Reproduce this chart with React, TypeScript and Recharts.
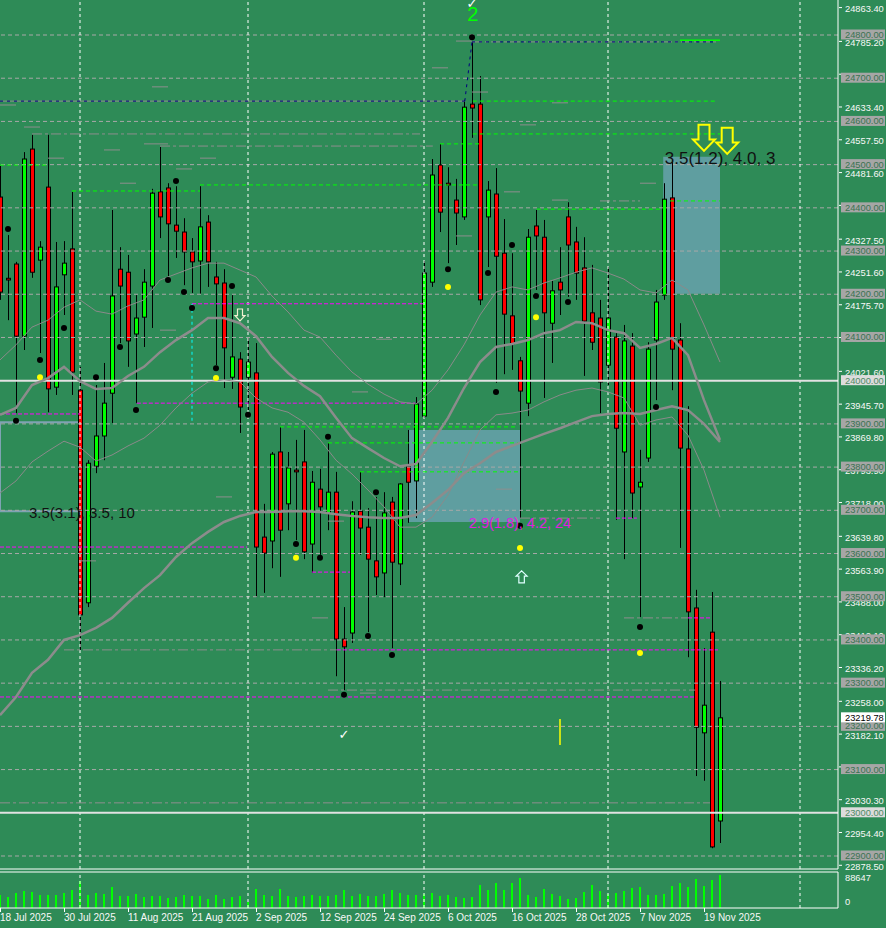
import React from 'react';
import { ComposedChart, Bar, Line, XAxis, YAxis, ReferenceLine, ReferenceArea, ReferenceDot } from 'recharts';

// ---------------- data ----------------
const opens = [24425,24237,24270,24103,24536,24279,24448,23985,24245,24305,23978,23486,23802,23872,23971,24258,24251,24108,24147,24219,24437,24446,24360,24344,24298,24277,24367,24240,24226,24008,24050,24008,24018,23638,23629,23835,23715,23793,23812,23622,23749,23694,23742,23402,23416,23698,23661,23583,23555,23719,23576,23802,23768,23918,24228,24499,24457,24418,24379,24640,24640,24379,24432,24295,24150,24046,23948,24358,24332,24133,24228,24379,24321,24261,24157,24145,24036,24101,23835,24080,23754,23821,24094,24198,24423,24094,23842,23474,23185,23418,22981];
const highs = [24497,24337,24275,24529,24569,24323,24569,24321,24323,24437,24032,23816,23990,24041,24395,24309,24291,24198,24258,24444,24541,24457,24450,24376,24330,24450,24383,24275,24258,24198,24066,24101,24087,23715,23835,23893,23835,23863,23886,23791,23796,23856,23789,23476,23721,23789,23705,23731,23742,23731,23763,23886,23962,24277,24513,24548,24494,24467,24650,24784,24705,24462,24492,24374,24295,24055,24351,24395,24372,24231,24309,24413,24356,24332,24268,24187,24263,24110,24129,24110,23840,24089,24210,24457,24511,24133,23941,23516,23381,23511,23305];
const lows = [24187,24140,23925,24071,24238,24064,23927,23967,24152,23967,23377,23476,23786,23816,23902,24087,24032,23948,24078,24122,24330,24242,24284,24221,24203,24201,24217,24036,23983,23981,23879,23932,23499,23509,23566,23546,23654,23631,23587,23555,23597,23654,23316,23284,23393,23597,23418,23504,23499,23381,23527,23671,23682,23914,24217,24344,24272,24314,24372,24562,24175,24263,23995,24015,24025,23682,23918,24210,23960,24041,24152,24194,24187,24011,24071,23925,23990,23678,23587,23682,23453,23812,23955,24187,23978,23613,23360,23085,23074,22918,22930];
const closes = [24205,24233,24103,24513,24251,24309,23981,24217,24272,24020,23458,23809,23872,23948,24196,24219,24092,24145,24228,24434,24379,24363,24346,24298,24275,24356,24275,24224,24076,24055,23939,24043,23615,23601,23830,23654,23798,23789,23604,23765,23708,23742,23402,23384,23696,23659,23587,23546,23694,23580,23761,23765,23946,24249,24476,24390,24453,24388,24633,24631,24187,24441,24288,24154,24085,23976,24332,24335,24157,24208,24210,24314,24249,24138,24089,23997,24145,23890,24092,23740,23765,24073,24182,24420,24073,23844,23465,23198,23249,22921,23219.78];
const volumes = [34900,29500,40300,45700,43000,34900,34900,34900,40300,48300,72500,34900,40300,37600,56400,32200,32200,37600,29500,32200,32200,26900,29500,34900,32200,32200,24200,34900,24200,29500,32200,16100,51000,34900,32200,51000,32200,29500,32200,34900,32200,32200,34900,48300,32200,37600,32200,32200,37600,48300,40300,34900,34900,37600,40300,32200,34900,29500,26900,29500,61800,48300,67200,48300,67200,80600,34900,29500,51000,37600,32200,24200,26900,43000,61800,45700,37600,40300,45700,53700,56400,34900,34900,37600,59100,67200,56400,77900,59100,75200,88647];

// indicator lines, one value every second bar (bar 0, 2, 4, ...)
const midBand = [23921,23937,23990,24006,24032,23999,23981,23983,24011,24032,24066,24094,24117,24145,24145,24133,24103,24055,24018,23988,23964,23914,23867,23844,23821,23802,23807,23858,23914,23983,24043,24078,24085,24094,24110,24117,24136,24133,24117,24110,24076,24085,24099,24059,23955,23863];
const slowMa = [23226,23268,23324,23354,23400,23411,23428,23451,23486,23520,23550,23592,23624,23650,23673,23687,23696,23696,23698,23698,23696,23691,23687,23684,23682,23682,23689,23717,23747,23786,23809,23835,23849,23863,23877,23890,23904,23918,23923,23925,23923,23932,23941,23932,23900,23858];
const upperBand = [24048,24083,24124,24140,24170,24187,24161,24154,24173,24187,24233,24247,24261,24272,24272,24256,24240,24196,24159,24117,24101,24059,24020,23992,23969,23951,23946,23978,24025,24083,24152,24205,24217,24210,24226,24238,24251,24261,24249,24235,24210,24203,24233,24210,24129,24043];
const lowerBand = [23740,23768,23812,23837,23860,23846,23814,23828,23849,23867,23897,23937,23971,23997,24002,23997,23960,23937,23927,23904,23863,23816,23784,23747,23708,23661,23661,23684,23735,23812,23886,23921,23925,23932,23951,23967,23978,23983,23974,23960,23897,23909,23916,23874,23793,23684];

const dateLabels = ['18 Jul 2025','30 Jul 2025','11 Aug 2025','21 Aug 2025','2 Sep 2025','12 Sep 2025','24 Sep 2025','6 Oct 2025','16 Oct 2025','28 Oct 2025','7 Nov 2025','19 Nov 2025'];
const dateTickBars = [0,8,16,24,32,40,48,56,64,72,80,88];
const monthSeparators = [10,31,53,76,100];

const priceTicks = [24863.4,24785.2,24709.3,24633.4,24557.5,24481.6,24405.7,24327.5,24251.6,24175.7,24099.8,24021.6,23945.7,23869.8,23793.9,23718.0,23639.8,23563.9,23488.0,23412.1,23336.2,23258.0,23182.1,23106.2,23030.3,22954.4,22878.5];
const roundLevels = [24800,24700,24600,24500,24400,24300,24200,24100,23900,23800,23700,23600,23500,23400,23300,23200,23100,22900];
const keyLevels = [24000,23000];
const lastPrice = 23219.78;
const volumeTicks = [0, 88647];

const fractalsBlack = [[1,24351],[2,23907],[5,24048],[8,24122],[12,24008],[15,24078],[17,23932],[21,24233],[22,24462],[23,24205],[24,24168],[27,24029],[29,24219],[31,23921],[37,23622],[40,23590],[41,23870],[43,23273],[46,23409],[47,23742],[49,23365],[56,24258],[59,24795],[61,24249],[62,23974],[64,24314],[65,23664],[67,24196],[71,24182],[80,23430],[82,23939]];
const fractalsYellow = [[5,24008],[27,24006],[37,23590],[56,24217],[67,24147],[65,23613],[80,23370]];

// [fromBar, toBar, price]
const magentaLevels = [[24,52.9,24178],[17.1,51.9,23948],[0,10,23923],[0,30.9,23615],[39,43.75,23557],[77,79.6,23682],[86,88.75,23451],[42.1,89.75,23377],[0,86.9,23268]];
const greenLevels = [[0,6,24499],[9,25,24439],[25,60,24453],[59.1,89.6,24647],[59.1,90,24571],[55,60,24548],[67.1,82.5,24397],[83.75,90,24416],[35,64.75,23893],[41,64.75,23856],[45,64.75,23789]];
const grayLevels = [[4,52.5,24571],[20,54.1,24543],[8,42.1,23377],[41,86.9,23284],[0,88.75,23023],[65,75,23682],[78,86,23451],[59,89.6,24784],[75,80,24416]];
const shortLevels = [[19,21,24680],[0,2,24638],[3,5,24587],[13,15,24534],[6,8,24515],[15,17,24457],[22,24,24490],[25,27,24515],[18,21,24548],[54,56,24724],[57,59,24786],[59,61,24668],[65,67,24592],[69,71,24643],[63,65,24437],[57,59,24335],[69,71,24418],[80,82,24457],[20,22,24117],[27,29,23731],[10,12,23583],[44,46,23974],[47,49,24096],[41,43,23675],[62,64,23749],[39,41,23451],[45,47,23277]];
const navyPath = [[0,24647],[58.1,24647],[59,24784],[89.6,24784]];
const solidGreenLevel = [85,90,24788];

// [x1, x2, y1, y2]
const zones = [[51,65,23673,23886],[82.9,90,24201,24518]];
const outlineZone = [0,10,23698,23904];

const notes = [[3.625,23694,'3.5(3.1), 3.5, 10'],[58.6,23671,'2.9(1.8), 4.2, 24'],[83.1,24515,'3.5(1.2), 4.0, 3']];
const waveLabel = [58.4,24849,'2'];
const checks = [[59,24874],[43,23182]];
const bigDownArrows = [[88,24562],[90.9,24555]];
const smallDownArrow = [30,24152];
const smallUpArrow = [65.2,23546];
const cyanMarker = [24,24178,23907];
const yellowMarker = [70,23217,23157];

// ---------------- layout ----------------
const W = 886;
const MAIN_H = 870;
const VOL_H = 58;
const AXIS_W = 48;
const PLOT_W = W - AXIS_W;
const PRICE_DOMAIN: [number, number] = [22869.9, 24881];
const X_DOMAIN: [number, number] = [0, 104.75];
const VOL_DOMAIN: [number, number] = [0, 96700];
const BG = '#2e8b57';
const FONT = '"Liberation Sans", Arial, sans-serif';
const NOTE_SIZES = [15, 14.5, 17];
const NOTE_COLORS = ['#111111', '#e020e0', '#111111'];

const rows = opens.map((o, i) => ({
  i,
  open: o,
  high: highs[i],
  low: lows[i],
  close: closes[i],
  range: [lows[i], highs[i]],
  vol: volumes[i],
}));
const lineRows = midBand.map((v, k) => ({
  i: k * 2,
  mid: v,
  slow: slowMa[k],
  upper: upperBand[k],
  lower: lowerBand[k],
}));

const Candle = (props: any) => {
  const { x, y, width, height } = props;
  const d = props.payload || props;
  if (d == null || x == null) return null;
  const cx = Math.round(x + width / 2);
  const top = Math.min(y, y + height);
  const h = Math.abs(height);
  const span = d.high - d.low || 1;
  const pos = (v: number) => top + ((d.high - v) / span) * h;
  const yo = pos(d.open);
  const yc = pos(d.close);
  const bull = d.close >= d.open;
  const bt = Math.min(yo, yc);
  const bb = Math.max(yo, yc);
  return (
    <g>
      <line x1={cx + 0.5} x2={cx + 0.5} y1={top} y2={top + h} stroke="#000" strokeWidth={1} />
      <rect x={cx - 1.5} y={bt} width={4} height={Math.max(bb - bt, 1)} fill={bull ? '#00ff00' : '#ff0000'} stroke="#000" strokeWidth={1} />
    </g>
  );
};

const PriceTick = (props: any) => {
  const { y, payload } = props;
  const v = payload.value;
  const label = v.toFixed(2);
  const ax = PLOT_W;
  if (roundLevels.includes(v) || keyLevels.includes(v) || v === lastPrice) {
    const fill = v === lastPrice ? '#ffffff' : keyLevels.includes(v) ? '#dcdcdc' : '#a6a6a6';
    const color = v === lastPrice ? '#000000' : keyLevels.includes(v) ? '#4f8a66' : '#3b7352';
    return (
      <g>
        <rect x={ax + 3} y={y - 5.5} width={44} height={10} fill={fill} />
        <text x={ax + 7} y={y + 3} fontSize={9.3} fontFamily={FONT} fill={color}>{label}</text>
      </g>
    );
  }
  return (
    <g>
      <line x1={ax + 1} x2={ax + 4} y1={y} y2={y} stroke="#fff" />
      <text x={ax + 7} y={y + 4.5} fontSize={9.3} fontFamily={FONT} fill="#f8f8f8">{label}</text>
    </g>
  );
};

const VolTick = (props: any) => {
  const { y, payload } = props;
  const v = payload.value;
  return (
    <text x={PLOT_W + 7} y={v === 0 ? y - 3 : y + 6} fontSize={9.3} fontFamily={FONT} fill="#f8f8f8">{String(v)}</text>
  );
};

const DateTick = (props: any) => {
  const { x, payload } = props;
  const k = dateTickBars.indexOf(payload.value);
  const axisY = 2 + 36;
  return (
    <g>
      <line x1={x + 0.5} x2={x + 0.5} y1={axisY} y2={axisY + 4} stroke="#fff" />
      <text x={x} y={axisY + 13} fontSize={10} fontFamily={FONT} fill="#f8f8f8">{dateLabels[k]}</text>
    </g>
  );
};

const downArrowPath = (cx: number, cy: number, w: number, h: number) => {
  const t = cy - h / 2;
  const s = w * 0.25;
  const hy = t + h * 0.56;
  return `M${cx - s},${t} L${cx + s},${t} L${cx + s},${hy} L${cx + w / 2},${hy} L${cx},${t + h} L${cx - w / 2},${hy} L${cx - s},${hy} Z`;
};
const upArrowPath = (cx: number, cy: number, w: number, h: number) => {
  const b = cy + h / 2;
  const s = w * 0.25;
  const hy = b - h * 0.56;
  return `M${cx - s},${b} L${cx + s},${b} L${cx + s},${hy} L${cx + w / 2},${hy} L${cx},${b - h} L${cx - w / 2},${hy} L${cx - s},${hy} Z`;
};

const seg = (a: number, b: number, p: number) => [{ x: a, y: p }, { x: b, y: p }];

export default function App() {
  return (
    <div style={{ position: 'absolute', left: 0, top: 0, width: W, height: 928, background: BG, overflow: 'hidden' }}>
      <div style={{ position: 'absolute', left: 0, top: 0 }}>
        <ComposedChart width={W} height={MAIN_H} data={rows} margin={{ top: 0, right: 0, bottom: 0, left: 0 }}>
          <XAxis dataKey="i" type="number" domain={X_DOMAIN} allowDataOverflow height={1} tick={false} tickLine={false} ticks={[]} axisLine={{ stroke: '#ffffff' }} />
          <YAxis orientation="right" type="number" domain={PRICE_DOMAIN} allowDataOverflow width={AXIS_W} ticks={[...priceTicks, ...roundLevels, ...keyLevels, lastPrice]} interval={0} tick={<PriceTick />} tickLine={false} axisLine={{ stroke: '#ffffff' }} />

          {zones.map((z, k) => (
            <ReferenceArea key={'z' + k} x1={z[0]} x2={z[1]} y1={z[2]} y2={z[3]} fill="#5f9ea0" fillOpacity={1} stroke="none" ifOverflow="visible" />
          ))}
          <ReferenceArea x1={outlineZone[0]} x2={outlineZone[1]} y1={outlineZone[2]} y2={outlineZone[3]} fill="none" stroke="#7fa3b3" strokeWidth={2} ifOverflow="visible" />

          {roundLevels.map((p) => (
            <ReferenceLine key={'g' + p} y={p} stroke="#a8a8a8" strokeDasharray="4 3" />
          ))}
          {monthSeparators.map((b) => (
            <ReferenceLine key={'v' + b} x={b} stroke="#ffffff" strokeDasharray="3 3" />
          ))}
          {keyLevels.map((p) => (
            <ReferenceLine key={'k' + p} y={p} stroke="#e2e2e2" strokeWidth={2} />
          ))}

          {grayLevels.map((l, k) => (
            <ReferenceLine key={'gl' + k} segment={seg(l[0], l[1], l[2])} stroke="#8e8e8e" strokeDasharray="10 3 3 3" ifOverflow="visible" />
          ))}
          {shortLevels.map((l, k) => (
            <ReferenceLine key={'sl' + k} segment={seg(l[0], l[1], l[2])} stroke="#8e8e8e" strokeWidth={1} ifOverflow="visible" />
          ))}
          <ReferenceLine segment={seg(navyPath[0][0], navyPath[1][0], navyPath[0][1])} stroke="#8e8e8e" ifOverflow="visible" />
          {navyPath.slice(1).map((pt, k) => (
            <ReferenceLine key={'n' + k} segment={[{ x: navyPath[k][0], y: navyPath[k][1] }, { x: pt[0], y: pt[1] }]} stroke="#000080" strokeDasharray="3 4" ifOverflow="visible" />
          ))}
          {magentaLevels.map((l, k) => (
            <ReferenceLine key={'m' + k} segment={seg(l[0], l[1], l[2])} stroke="#ff00ff" strokeDasharray="4 2" ifOverflow="visible" />
          ))}
          {greenLevels.map((l, k) => (
            <ReferenceLine key={'gr' + k} segment={seg(l[0], l[1], l[2])} stroke="#00ff00" strokeDasharray="4 3" ifOverflow="visible" />
          ))}
          <ReferenceLine segment={seg(solidGreenLevel[0], solidGreenLevel[1], solidGreenLevel[2])} stroke="#00ff00" strokeWidth={1.5} ifOverflow="visible" />
          <ReferenceLine segment={[{ x: cyanMarker[0], y: cyanMarker[1] }, { x: cyanMarker[0], y: cyanMarker[2] }]} stroke="#00ffff" strokeDasharray="3 3" ifOverflow="visible" />
          <ReferenceLine segment={[{ x: yellowMarker[0], y: yellowMarker[1] }, { x: yellowMarker[0], y: yellowMarker[2] }]} stroke="#ffff00" strokeWidth={1.5} ifOverflow="visible" />

          <Line data={lineRows} dataKey="upper" stroke="#8a8a8a" strokeWidth={1} dot={false} activeDot={false} isAnimationActive={false} />
          <Line data={lineRows} dataKey="lower" stroke="#8a8a8a" strokeWidth={1} dot={false} activeDot={false} isAnimationActive={false} />
          <Line data={lineRows} dataKey="mid" stroke="#8c8c8c" strokeWidth={2.5} dot={false} activeDot={false} isAnimationActive={false} />
          <Line data={lineRows} dataKey="slow" stroke="#8c8c8c" strokeWidth={2.5} dot={false} activeDot={false} isAnimationActive={false} />

          <Bar dataKey="range" barSize={6} shape={<Candle />} isAnimationActive={false} />

          {fractalsBlack.map((f, k) => (
            <ReferenceDot key={'fb' + k} x={f[0]} y={f[1]} r={3} fill="#000000" stroke="none" ifOverflow="visible" />
          ))}
          {fractalsYellow.map((f, k) => (
            <ReferenceDot key={'fy' + k} x={f[0]} y={f[1]} r={3} fill="#ffff00" stroke="none" ifOverflow="visible" />
          ))}

          {notes.map((n, k) => (
            <ReferenceDot key={'t' + k} x={n[0] as number} y={n[1] as number} r={0} ifOverflow="visible"
              shape={(p: any) => (
                <text x={p.cx} y={p.cy + NOTE_SIZES[k] * 0.36} fontSize={NOTE_SIZES[k]} fontFamily={FONT} fill={NOTE_COLORS[k]}>{n[2]}</text>
              )} />
          ))}
          <ReferenceDot x={waveLabel[0] as number} y={waveLabel[1] as number} r={0} ifOverflow="visible"
            shape={(p: any) => (
              <text x={p.cx} y={p.cy + 7.5} fontSize={20} fontFamily={FONT} fill="#00ff00">{waveLabel[2]}</text>
            )} />
          {checks.map((c, k) => (
            <ReferenceDot key={'c' + k} x={c[0]} y={c[1]} r={0} ifOverflow="visible"
              shape={(p: any) => (
                <text x={p.cx} y={p.cy + 5} fontSize={13} textAnchor="middle" fontFamily='"DejaVu Sans", sans-serif' fill="#ffffff">✓</text>
              )} />
          ))}
          {bigDownArrows.map((a, k) => (
            <ReferenceDot key={'a' + k} x={a[0]} y={a[1]} r={0} ifOverflow="visible"
              shape={(p: any) => <path d={downArrowPath(p.cx, p.cy, 22, 26)} fill="none" stroke="#ffff00" strokeWidth={2} />} />
          ))}
          <ReferenceDot x={smallDownArrow[0]} y={smallDownArrow[1]} r={0} ifOverflow="visible"
            shape={(p: any) => <path d={downArrowPath(p.cx, p.cy, 10, 12)} fill="none" stroke="#f0f0d0" strokeWidth={1.2} />} />
          <ReferenceDot x={smallUpArrow[0]} y={smallUpArrow[1]} r={0} ifOverflow="visible"
            shape={(p: any) => <path d={upArrowPath(p.cx, p.cy, 11, 12)} fill="none" stroke="#e0ffff" strokeWidth={1.2} />} />
        </ComposedChart>
      </div>
      <div style={{ position: 'absolute', left: 0, top: MAIN_H }}>
        <ComposedChart width={W} height={VOL_H} data={rows} margin={{ top: 2, right: 0, bottom: 0, left: 0 }}>
          <XAxis dataKey="i" type="number" domain={X_DOMAIN} allowDataOverflow ticks={dateTickBars} interval={0} height={20} tick={<DateTick />} tickLine={false} axisLine={{ stroke: '#ffffff' }} />
          <YAxis orientation="right" type="number" domain={VOL_DOMAIN} allowDataOverflow width={AXIS_W} ticks={volumeTicks} interval={0} tick={<VolTick />} tickLine={false} axisLine={{ stroke: '#ffffff' }} />
          <ReferenceLine y={VOL_DOMAIN[1]} stroke="#ffffff" ifOverflow="visible" />
          {monthSeparators.map((b) => (
            <ReferenceLine key={'vv' + b} x={b} stroke="#ffffff" strokeDasharray="3 3" />
          ))}
          <Bar dataKey="vol" barSize={2} fill="#00ff00" isAnimationActive={false} />
        </ComposedChart>
      </div>
    </div>
  );
}
